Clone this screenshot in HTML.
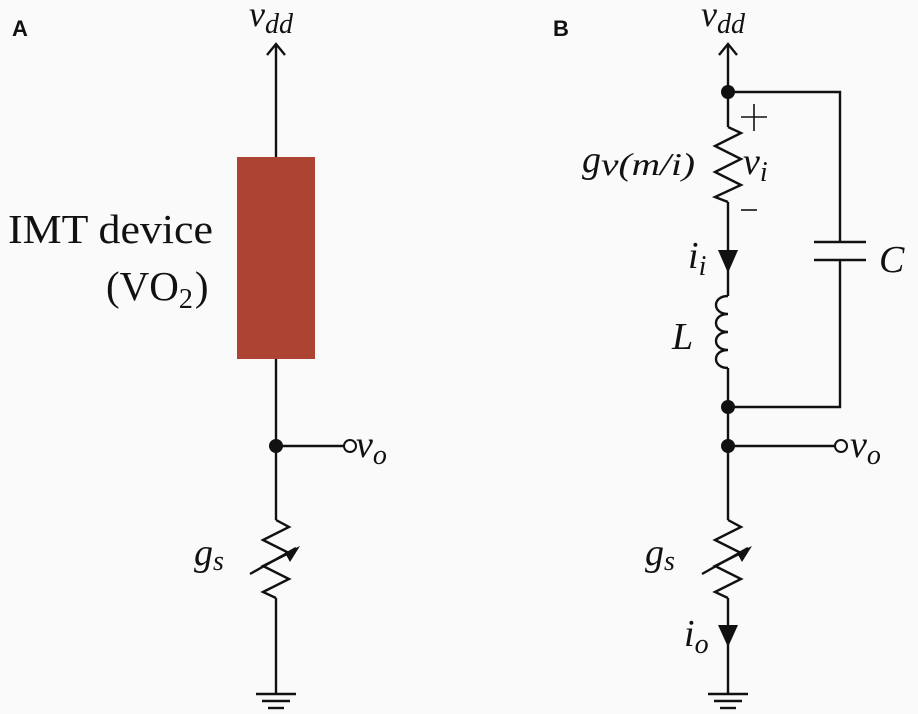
<!DOCTYPE html>
<html><head><style>
html,body{margin:0;padding:0;background:#fafafa;}
svg{display:block}
text{font-family:"Liberation Serif",serif;font-style:italic;fill:#111}
.b{font-family:"Liberation Sans",sans-serif;font-style:normal;font-weight:bold}
.n{font-style:normal}
</style></head><body>
<svg width="918" height="714" viewBox="0 0 918 714" xmlns="http://www.w3.org/2000/svg">
<rect width="918" height="714" fill="#fafafa"/>
<g stroke="#111" stroke-width="2.4" fill="none" stroke-linejoin="miter">
<line x1="276" y1="44" x2="276" y2="157"/>
<polyline points="267,55 276,44 285,55"/>
<line x1="276" y1="359" x2="276" y2="520"/>
<line x1="276" y1="446" x2="344" y2="446"/>
<polyline points="276,520 289,527 263,540 289,553 263,566 289,579 263,592 276,598"/>
<line x1="276" y1="598" x2="276" y2="694"/>
<line x1="250" y1="574" x2="296" y2="548"/>
<line x1="256" y1="694" x2="296" y2="694"/>
<line x1="262" y1="701" x2="290" y2="701"/>
<line x1="268" y1="708" x2="284" y2="708"/>
<line x1="728" y1="44" x2="728" y2="127"/>
<polyline points="719,55 728,44 737,55"/>
<polyline points="728,92 840,92 840,242"/>
<line x1="814" y1="242" x2="866" y2="242"/>
<line x1="814" y1="260" x2="866" y2="260"/>
<polyline points="840,260 840,407 728,407"/>
<polyline points="728,127 741,133 715,146 741,159 715,172 741,185 715,197 728,202"/>
<line x1="728" y1="202" x2="728" y2="296"/>
<path d="M728,296 C712,296 712,314 728,314 C712,314 712,332 728,332 C712,332 712,350 728,350 C712,350 712,368 728,368"/>
<line x1="728" y1="368" x2="728" y2="520"/>
<line x1="728" y1="446" x2="835" y2="446"/>
<polyline points="728,520 741,527 715,540 741,553 715,566 741,579 715,592 728,598"/>
<line x1="728" y1="598" x2="728" y2="694"/>
<line x1="702" y1="574" x2="748" y2="548"/>
<line x1="708" y1="694" x2="748" y2="694"/>
<line x1="714" y1="701" x2="742" y2="701"/>
<line x1="720" y1="708" x2="736" y2="708"/>
</g>
<g stroke="#111" stroke-width="1.6">
<line x1="741" y1="117" x2="767" y2="117"/><line x1="754" y1="104" x2="754" y2="131"/>
<line x1="741" y1="210" x2="757" y2="210"/>
</g>
<g fill="#111">
<polygon points="300,546 290,562 285,553"/>
<polygon points="752,546 742,562 737,553"/>
<circle cx="276" cy="446" r="7"/>
<circle cx="728" cy="92" r="7"/>
<circle cx="728" cy="407" r="7"/>
<circle cx="728" cy="446" r="7"/>
<polygon points="718,250 738,250 728,273"/>
<polygon points="718,625 738,625 728,647"/>
</g>
<circle cx="350" cy="446" r="6" fill="#fff" stroke="#111" stroke-width="2"/>
<circle cx="841" cy="446" r="6" fill="#fff" stroke="#111" stroke-width="2"/>
<rect x="237" y="157" width="78" height="202" fill="#ad4433"/>
<text class="b" x="12" y="36" font-size="22">A</text>
<text class="b" x="553" y="36" font-size="22">B</text>
<text x="249" y="26" font-size="36">v<tspan font-size="28" dy="7">dd</tspan></text>
<text x="701" y="26" font-size="36">v<tspan font-size="28" dy="7">dd</tspan></text>
<text class="n" x="8" y="243" font-size="41" textLength="205" lengthAdjust="spacingAndGlyphs">IMT device</text>
<text class="n" x="106" y="300" font-size="41">(VO<tspan font-size="28" dy="8">2</tspan><tspan dy="-8" dx="2">)</tspan></text>
<text x="356" y="457" font-size="38">v<tspan font-size="28" dy="7">o</tspan></text>
<text x="850" y="457" font-size="38">v<tspan font-size="28" dy="7">o</tspan></text>
<text x="194" y="565" font-size="38">g<tspan font-size="28" dy="5">s</tspan></text>
<text x="645" y="565" font-size="38">g<tspan font-size="28" dy="5">s</tspan></text>
<text x="582" y="172" font-size="38">g</text>
<text x="601" y="175" font-size="32" textLength="94" lengthAdjust="spacingAndGlyphs">v(m/i)</text>
<text x="743" y="174" font-size="38">v<tspan font-size="28" dy="7">i</tspan></text>
<text x="688" y="268" font-size="38">i<tspan font-size="28" dy="7">i</tspan></text>
<text x="684" y="646" font-size="38">i<tspan font-size="28" dy="7">o</tspan></text>
<text x="672" y="349" font-size="38">L</text>
<text x="879" y="272" font-size="38">C</text>
</svg>
</body></html>
